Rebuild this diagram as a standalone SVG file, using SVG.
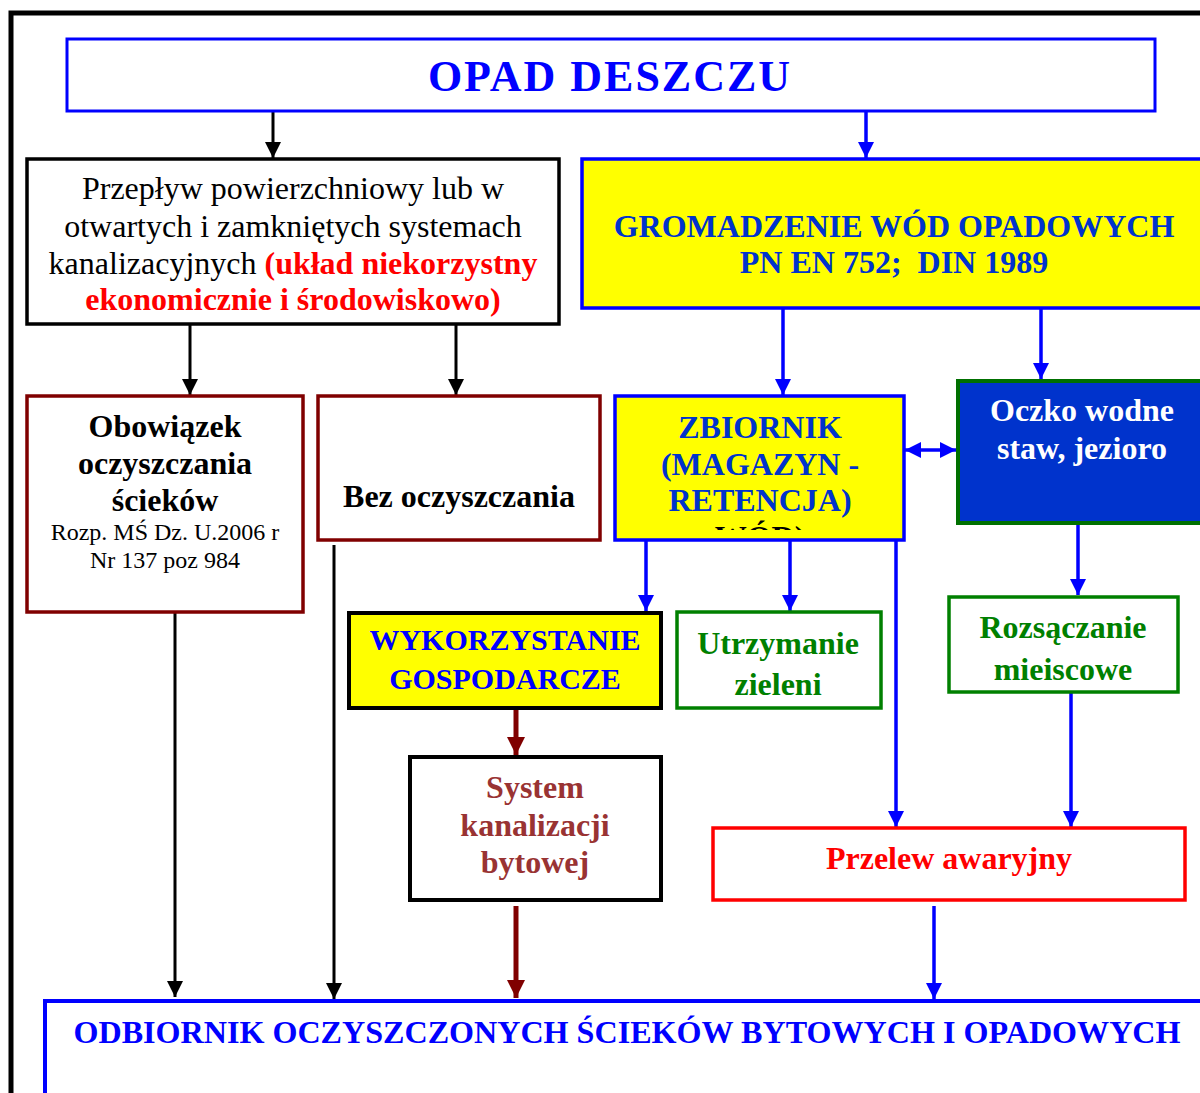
<svg xmlns="http://www.w3.org/2000/svg" width="1200" height="1093" viewBox="0 0 1200 1093">
<style>
text{font-family:"Liberation Serif","Times New Roman",serif;text-anchor:middle}
.b{font-weight:bold}
.box{fill:#fff}
</style>
<defs>
<marker id="kb" viewBox="0 0 16 16" markerUnits="userSpaceOnUse" markerWidth="16" markerHeight="16" refX="16" refY="8" orient="auto-start-reverse"><path d="M0,0 L16,8 L0,16 Z" fill="#000"/></marker>
<marker id="bb" viewBox="0 0 16 16" markerUnits="userSpaceOnUse" markerWidth="16" markerHeight="16" refX="16" refY="8" orient="auto-start-reverse"><path d="M0,0 L16,8 L0,16 Z" fill="#0000ff"/></marker>
<marker id="rb" viewBox="0 0 16 16" markerUnits="userSpaceOnUse" markerWidth="18" markerHeight="18" refX="16" refY="8" orient="auto-start-reverse"><path d="M0,0 L16,8 L0,16 Z" fill="#800000"/></marker>
<clipPath id="zc"><rect x="616" y="398" width="286" height="132"/></clipPath>
</defs>

<rect id="frame" x="11" y="13" width="1200" height="1100" fill="none" stroke="#000" stroke-width="5"/>

<g id="connectors">
<g stroke="#000" stroke-width="3" fill="none">
<line x1="273" y1="111" x2="273" y2="158" marker-end="url(#kb)"/>
<line x1="190" y1="324" x2="190" y2="395" marker-end="url(#kb)"/>
<line x1="456" y1="324" x2="456" y2="395" marker-end="url(#kb)"/>
<line x1="175" y1="612" x2="175" y2="997" marker-end="url(#kb)"/>
<line x1="334" y1="545" x2="334" y2="999" marker-end="url(#kb)"/>
</g>
<g stroke="#0000ff" stroke-width="3.5" fill="none">
<line x1="866" y1="111" x2="866" y2="158" marker-end="url(#bb)"/>
<line x1="783" y1="308" x2="783" y2="395" marker-end="url(#bb)"/>
<line x1="1041" y1="308" x2="1041" y2="379" marker-end="url(#bb)"/>
<line x1="905" y1="450" x2="956" y2="450" marker-start="url(#bb)" marker-end="url(#bb)"/>
<line x1="646" y1="540" x2="646" y2="611" marker-end="url(#bb)"/>
<line x1="790" y1="540" x2="790" y2="611" marker-end="url(#bb)"/>
<line x1="896" y1="540" x2="896" y2="827" marker-end="url(#bb)"/>
<line x1="1078" y1="523" x2="1078" y2="595" marker-end="url(#bb)"/>
<line x1="1071" y1="692" x2="1071" y2="827" marker-end="url(#bb)"/>
<line x1="934" y1="906" x2="934" y2="999" marker-end="url(#bb)"/>
</g>
<g stroke="#800000" stroke-width="5" fill="none">
<line x1="516" y1="709" x2="516" y2="755" marker-end="url(#rb)"/>
<line x1="516" y1="906" x2="516" y2="998" marker-end="url(#rb)"/>
</g>
</g>

<g id="opad">
<rect x="67" y="39" width="1088" height="72" class="box" stroke="#0000ff" stroke-width="3"/>
<text x="610" y="91" class="b" font-size="44" fill="#0000ff" letter-spacing="2">OPAD DESZCZU</text>
</g>

<g id="przeplyw">
<rect x="27" y="159" width="532" height="165" class="box" stroke="#000" stroke-width="3.5"/>
<text x="293" y="199" font-size="32" fill="#000">Przepływ powierzchniowy lub w</text>
<text x="293" y="237" font-size="32" fill="#000">otwartych i zamkniętych systemach</text>
<text x="293" y="274" font-size="32" fill="#000">kanalizacyjnych <tspan class="b" fill="#ff0000">(układ niekorzystny</tspan></text>
<text x="293" y="310" font-size="32" class="b" fill="#ff0000">ekonomicznie i środowiskowo)</text>
</g>

<g id="gromadzenie">
<rect x="582" y="159" width="640" height="149" fill="#ffff00" stroke="#0000ff" stroke-width="3.5"/>
<text x="894" y="237" font-size="32" class="b" fill="#0033cc">GROMADZENIE WÓD OPADOWYCH</text>
<text x="894" y="273" font-size="32" class="b" fill="#0033cc" xml:space="preserve">PN EN 752;  DIN 1989</text>
</g>

<g id="obowiazek">
<rect x="27" y="396" width="276" height="216" class="box" stroke="#800000" stroke-width="3.5"/>
<text x="165" y="437" font-size="32" class="b" fill="#000">Obowiązek</text>
<text x="165" y="474" font-size="32" class="b" fill="#000">oczyszczania</text>
<text x="165" y="511" font-size="32" class="b" fill="#000">ścieków</text>
<text x="165" y="540" font-size="24" fill="#000">Rozp. MŚ Dz. U.2006 r</text>
<text x="165" y="568" font-size="24" fill="#000">Nr 137 poz 984</text>
</g>

<g id="bez">
<rect x="318" y="396" width="282" height="144" class="box" stroke="#800000" stroke-width="3.5"/>
<text x="459" y="507" font-size="32" class="b" fill="#000">Bez oczyszczania</text>
</g>

<g id="zbiornik">
<rect x="615" y="396" width="289" height="144" fill="#ffff00" stroke="#0000ff" stroke-width="3.5"/>
<g clip-path="url(#zc)">
<text x="760" y="438" font-size="32" class="b" fill="#0033cc">ZBIORNIK</text>
<text x="760" y="475" font-size="32" class="b" fill="#0033cc">(MAGAZYN -</text>
<text x="760" y="511" font-size="32" class="b" fill="#0033cc">RETENCJA)</text>
<text x="760" y="548" font-size="32" class="b" fill="#000">WÓD)</text>
</g>
</g>

<g id="oczko">
<rect x="958" y="381" width="260" height="142" fill="#0033cc" stroke="#007000" stroke-width="4"/>
<text x="1082" y="421" font-size="32" class="b" fill="#fff">Oczko wodne</text>
<text x="1082" y="459" font-size="32" class="b" fill="#fff">staw, jezioro</text>
</g>

<g id="wykorzystanie">
<rect x="349" y="613" width="312" height="95" fill="#ffff00" stroke="#000" stroke-width="4"/>
<text x="505" y="650" font-size="30" class="b" fill="#0000ff">WYKORZYSTANIE</text>
<text x="505" y="689" font-size="30" class="b" fill="#0000ff">GOSPODARCZE</text>
</g>

<g id="utrzymanie">
<rect x="677" y="612" width="204" height="96" class="box" stroke="#008000" stroke-width="3.5"/>
<text x="778" y="654" font-size="32" class="b" fill="#008000">Utrzymanie</text>
<text x="778" y="695" font-size="32" class="b" fill="#008000">zieleni</text>
</g>

<g id="rozsaczanie">
<rect x="949" y="597" width="229" height="95" class="box" stroke="#008000" stroke-width="3.5"/>
<text x="1063" y="638" font-size="32" class="b" fill="#008000">Rozsączanie</text>
<text x="1063" y="680" font-size="32" class="b" fill="#008000">mieiscowe</text>
</g>

<g id="system">
<rect x="410" y="757" width="251" height="143" class="box" stroke="#000" stroke-width="4"/>
<text x="535" y="798" font-size="32" class="b" fill="#993333">System</text>
<text x="535" y="836" font-size="32" class="b" fill="#993333">kanalizacji</text>
<text x="535" y="873" font-size="32" class="b" fill="#993333">bytowej</text>
</g>

<g id="przelew">
<rect x="713" y="828" width="472" height="72" class="box" stroke="#ff0000" stroke-width="3.5"/>
<text x="949" y="869" font-size="32" class="b" fill="#ff0000">Przelew awaryjny</text>
</g>

<g id="odbiornik">
<rect x="45" y="1001" width="1180" height="120" class="box" stroke="#0000ff" stroke-width="4"/>
<text x="627" y="1043" font-size="32" class="b" fill="#0000ff" textLength="1107" lengthAdjust="spacingAndGlyphs">ODBIORNIK OCZYSZCZONYCH ŚCIEKÓW BYTOWYCH I OPADOWYCH</text>
</g>
</svg>
